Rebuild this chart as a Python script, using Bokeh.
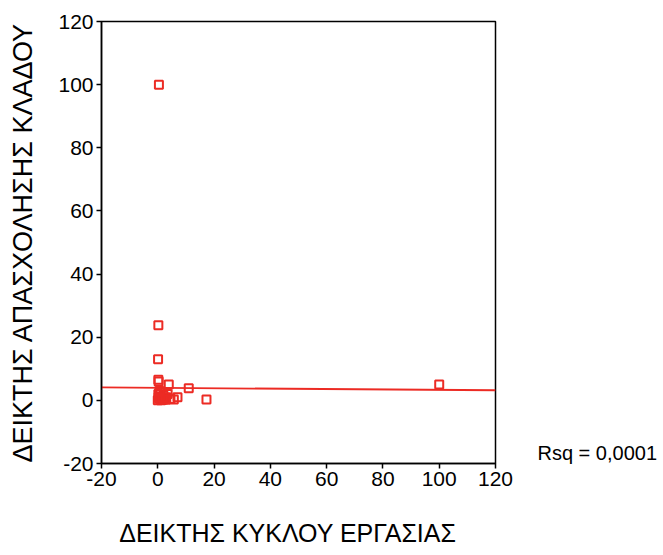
from bokeh.plotting import figure
from bokeh.models import Range1d, FixedTicker, LinearAxis
from bokeh.embed import file_html
from bokeh.resources import INLINE

# Data
cycle_index = [0.4, 0.2, 0.1, 0.2, 0.3, 100, 3.9, 11, 17.3, 7, 5.7,
               0.0, 0.5, 1.0, 1.5, 2.0, 2.5, 3.0, 0.2, 1.0, 3.5, 4.5, 0.8, 2.0, 1.2,
               0.3, 1.8, 2.8, 0.6]
employment_index = [100, 23.8, 13, 6.5, 6.0, 5.0, 5.0, 3.8, 0.3, 1.0, 0.3,
                    0.0, 0.5, 1.0, 0.2, 1.5, 0.5, 1.0, 2.0, 2.5, 2.0, 0.5, 1.2, 0.3, 0.0,
                    1.0, 0.8, 0.2, 3.0]
fit_intercept = 3.97
fit_slope = -0.0064
rsq_text = "Rsq = 0,0001"
rsq_pos = -16.8
x_label = "ΔΕΙΚΤΗΣ ΚΥΚΛΟΥ ΕΡΓΑΣΙΑΣ"
x_label_pos = 46.2
x_ticks = [-20, 0, 20, 40, 60, 80, 100, 120]
y_ticks = [-20, 0, 20, 40, 60, 80, 100, 120]
y_label = "ΔΕΙΚΤΗΣ ΑΠΑΣΧΟΛΗΣΗΣ ΚΛΑΔΟΥ"

RED = "#ec2b24"
FONT = "Liberation Sans"

p = figure(width=663, height=555, output_backend="svg", toolbar_location=None,
           x_range=Range1d(-20, 120), y_range=Range1d(-20, 120),
           min_border_left=101, min_border_right=168, min_border_top=21, min_border_bottom=92)
p.grid.visible = False
p.outline_line_color = "black"
p.outline_line_width = 1.5
p.background_fill_color = "white"
p.border_fill_color = "white"

for ax, ticks in ((p.xaxis[0], x_ticks), (p.yaxis[0], y_ticks)):
    ax.ticker = FixedTicker(ticks=ticks)
    ax.major_label_overrides = {t: str(t) for t in ticks}
    ax.minor_tick_line_color = None
    ax.major_tick_out = 5
    ax.major_tick_in = 0
    ax.axis_line_width = 1.5
    ax.major_tick_line_width = 1.5
    ax.major_label_text_font = FONT
    ax.major_label_text_font_size = "21px"
    ax.major_label_text_color = "black"
    ax.axis_label_text_font = FONT
    ax.axis_label_text_font_style = "normal"
    ax.axis_label_text_color = "black"

p.yaxis.axis_label = y_label
p.yaxis.axis_label_text_font_size = "27px"
p.yaxis.axis_label_standoff = 17
p.yaxis.major_label_standoff = 3
p.xaxis.major_label_standoff = 3

# x-axis title (slightly left of centre as in the reference), via an invisible second axis
bax = LinearAxis(ticker=FixedTicker(ticks=[x_label_pos]),
                 major_label_overrides={x_label_pos: x_label},
                 axis_line_color=None, major_tick_line_color=None,
                 major_tick_out=0, major_tick_in=0,
                 minor_tick_line_color=None, major_label_standoff=30,
                 major_label_text_font=FONT, major_label_text_font_size="25px",
                 major_label_text_color="black")
p.add_layout(bax, "below")

# Rsq note at the right of the frame, via an invisible right axis
rax = LinearAxis(ticker=FixedTicker(ticks=[rsq_pos]),
                 major_label_overrides={rsq_pos: rsq_text},
                 axis_line_color=None, major_tick_line_color=None,
                 major_tick_out=0, major_tick_in=0,
                 minor_tick_line_color=None, major_label_standoff=42,
                 major_label_text_font=FONT, major_label_text_font_size="20px",
                 major_label_text_color="black")
p.add_layout(rax, "right")

# regression line
xs = [-20, 120]
ys = [fit_intercept + fit_slope * x for x in xs]
p.line(xs, ys, line_color=RED, line_width=1.8)

p.scatter(cycle_index, employment_index, marker="square", size=8,
          fill_color=None, line_color=RED, line_width=2)

open("out.html", "w").write(file_html(p, INLINE))
